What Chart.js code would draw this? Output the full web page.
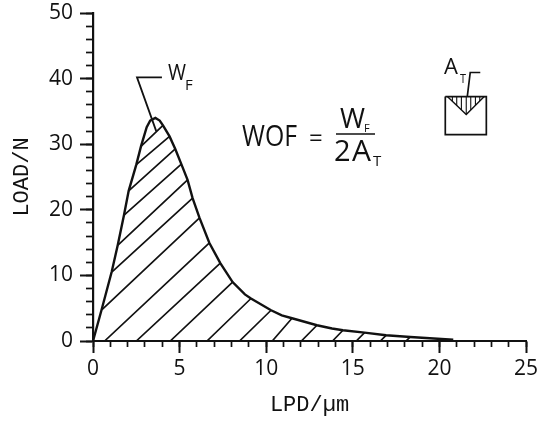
<!DOCTYPE html>
<html>
<head>
<meta charset="utf-8">
<style>
  html, body { margin: 0; padding: 0; background: #fff; }
  canvas { display: block; }
</style>
<script src="https://cdn.jsdelivr.net/npm/chart.js@4/dist/chart.umd.min.js"></script>
</head>
<body>
<canvas id="grafico" width="549" height="421"></canvas>
<script>
const INK = '#111111';

// curva carga x deslocamento
const lpd  = [0, 0.5, 1.08, 1.43, 1.79, 2.06, 2.5, 2.77, 3.1, 3.3, 3.6, 3.85, 4.04, 4.42, 4.75, 5.1, 5.46, 5.75, 6.15, 6.72, 7.35, 8.06, 8.77, 9.12, 10.28, 10.9, 11.49, 12.93, 13.8, 14.43, 15.68, 16.92, 18.32, 20.8];
const load = [0, 4.8, 10.55, 14.63, 19.2, 22.89, 26.88, 29.66, 32.6, 33.6, 34, 33.6, 32.87, 31.19, 29.27, 26.97, 24.57, 21.77, 18.76, 14.94, 11.88, 8.98, 7.1, 6.48, 4.69, 3.9, 3.47, 2.4, 1.9, 1.64, 1.28, 0.87, 0.61, 0.2];

// hachura sob a curva: início e fim de cada traço
const hatchX0 = [2.77, 2.5, 2.06, 1.81, 1.44, 1.10, 0.52, 0.67, 2.5, 4.46, 6.58, 8.46, 10.35, 12.03, 13.83, 15.2, 16.59, 18.07];
const hatchY0 = [29.66, 26.88, 22.89, 19.23, 14.63, 10.55, 4.8, 0, 0, 0, 0, 0, 0, 0, 0, 0, 0, 0];
const hatchX1 = [4.04, 4.42, 4.75, 5.10, 5.46, 5.75, 6.15, 6.72, 7.35, 8.06, 9.12, 10.28, 11.49, 12.93, 14.43, 15.68, 16.92, 18.32];
const hatchY1 = [32.87, 31.19, 29.27, 26.97, 24.57, 21.77, 18.76, 14.94, 11.88, 8.98, 6.48, 4.69, 3.47, 2.4, 1.64, 1.28, 0.87, 0.61];

// seta do W_F
const leaderX = [3.98, 2.54, 3.65];
const leaderY = [40.2, 40.2, 32];

// desenho do corpo de prova
const boxX = [20.34, 22.71, 22.71, 20.34, 20.34];
const boxY = [37.26, 37.26, 31.45, 31.45, 37.26];
const notchX = [20.46, 21.55, 22.59];
const notchY = [37.26, 34.51, 37.26];
const notchLineX = [20.75, 21.0, 21.27, 21.55, 21.81, 22.08, 22.33];
const notchLineY = [36.54, 35.89, 35.23, 34.51, 35.2, 35.89, 36.57];
const arrowX = [22.36, 21.78, 21.61];
const arrowY = [40.93, 40.93, 37.26];

const pares = (xs, ys) => xs.map((x, i) => ({ x, y: ys[i] }));

function segmentos(x0, y0, x1, y1) {
  const out = [];
  x0.forEach((_, i) => {
    out.push({ x: x0[i], y: y0[i] }, { x: x1[i], y: y1[i] }, { x: NaN, y: NaN });
  });
  return out;
}

function linha(data, borderWidth) {
  return { data, borderColor: INK, borderWidth, pointRadius: 0, showLine: true, tension: 0, spanGaps: false, fill: false };
}

// textos soltos do desenho
function texto(ctx, str, x, y, size, maxW) {
  ctx.font = `${size}px "Open Sans"`;
  ctx.fillText(str, x, y, maxW);
}

const anotacoes = {
  id: 'anotacoes',
  afterDraw(chart) {
    const ctx = chart.ctx;
    ctx.save();
    ctx.fillStyle = INK;
    ctx.strokeStyle = INK;
    ctx.textAlign = 'left';
    ctx.textBaseline = 'alphabetic';

    texto(ctx, 'W', 168, 80, 21, 18);
    texto(ctx, 'F', 185, 90, 15, 8);

    texto(ctx, 'WOF', 242, 146, 29, 55);
    texto(ctx, '=', 309, 146, 24, 14);
    texto(ctx, 'W', 340, 128, 28, 25);
    texto(ctx, 'F', 364, 132, 11, 8);
    ctx.lineWidth = 1.6;
    ctx.beginPath();
    ctx.moveTo(336, 134);
    ctx.lineTo(375, 134);
    ctx.stroke();
    texto(ctx, '2', 334, 161, 29, 17);
    texto(ctx, 'A', 352, 161, 30, 21);
    texto(ctx, 'T', 373, 166, 15, 9);

    texto(ctx, 'A', 444, 74, 22, 16);
    texto(ctx, 'T', 460, 83, 12, 6);
    ctx.restore();
  }
};

const ticksMaiores = { color: INK, font: { family: 'Open Sans', size: 21 } };

// sem folga extra do Chart.js para os rótulos das pontas
function semFolga(s) {
  s.paddingTop = 0;
  s.paddingBottom = 0;
  s.paddingLeft = 0;
  s.paddingRight = 0;
}

new Chart(document.getElementById('grafico'), {
  type: 'scatter',
  data: {
    datasets: [
      linha(pares(lpd, load), 2.4),
      linha(segmentos(hatchX0, hatchY0, hatchX1, hatchY1), 1.7),
      linha(pares(leaderX, leaderY), 1.8),
      linha(pares(boxX, boxY), 1.7),
      linha(pares(notchX, notchY), 1.4),
      linha(segmentos(notchLineX, notchLineX.map(() => 37.26), notchLineX, notchLineY), 1.1),
      linha(pares(arrowX, arrowY), 1.7)
    ]
  },
  plugins: [anotacoes],
  options: {
    responsive: false,
    animation: false,
    events: [],
    layout: { padding: { top: 13, right: 23, left: 0, bottom: 0 } },
    plugins: { legend: { display: false }, tooltip: { enabled: false } },
    scales: {
      x: {
        type: 'linear', min: 0, max: 25, weight: 1,
        afterFit(s) { s.height = 80; semFolga(s); },
        ticks: { ...ticksMaiores, stepSize: 5, padding: 3, maxRotation: 0 },
        grid: { drawOnChartArea: false, drawTicks: true, tickLength: 12, tickColor: INK, tickWidth: 2 },
        border: { display: true, color: INK, width: 2 },
        title: { display: true, text: 'LPD/µm', color: INK, font: { family: 'Liberation Mono', size: 22 }, padding: { top: 0, bottom: 3 } }
      },
      xMenor: {
        type: 'linear', axis: 'x', position: 'bottom', min: 0, max: 25, weight: 0,
        afterFit(s) { s.height = 0; semFolga(s); },
        ticks: { display: false, stepSize: 1 },
        grid: { drawOnChartArea: false, drawTicks: true, tickLength: 6, tickColor: INK, tickWidth: 1.7 },
        border: { display: false }
      },
      y: {
        type: 'linear', min: 0, max: 50, weight: 1,
        afterFit(s) { s.width = 93; semFolga(s); },
        ticks: { ...ticksMaiores, stepSize: 10, padding: 7 },
        grid: { drawOnChartArea: false, drawTicks: true, tickLength: 13, tickColor: INK, tickWidth: 2 },
        border: { display: true, color: INK, width: 2.2 },
        title: { display: true, text: 'LOAD/N', color: INK, font: { family: 'Liberation Mono', size: 22 }, padding: { top: 9, bottom: 0 } }
      },
      yMenor: {
        type: 'linear', axis: 'y', position: 'left', min: 0, max: 50, weight: 0,
        afterFit(s) { s.width = 0; semFolga(s); },
        ticks: { display: false, stepSize: 2 },
        grid: { drawOnChartArea: false, drawTicks: true, tickLength: 7, tickColor: INK, tickWidth: 1.7 },
        border: { display: false }
      }
    }
  }
});
</script>
</body>
</html>
